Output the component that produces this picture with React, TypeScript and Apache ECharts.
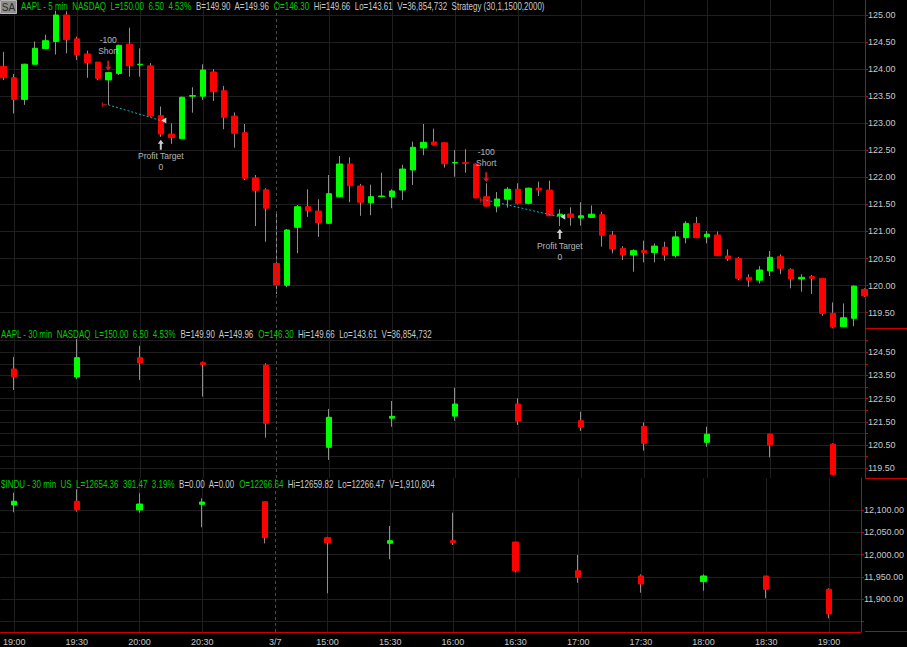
import React, { useEffect, useRef } from "react";
import * as echarts from "echarts";

// ---------- 5-minute AAPL bars (index = bar position) ----------
const open5 = [
  124.05, 123.84, 123.44, 124.09, 124.38, 124.51, 125.0, 124.56, 124.28, 124.13,
  123.8, 123.92, 124.46, 124.08, 124.06, 123.14, 122.8, 122.714, 123.5, 123.5,
  123.947, 123.6, 123.13, 122.825, 121.99, 121.77, 120.41, 120.006, 121.077, 121.458,
  121.378, 121.151, 121.643, 122.247, 121.84, 121.532, 121.645, 121.643, 121.766, 122.136,
  122.543, 122.653, 122.64, 122.265, 122.27, 122.247, 121.643, 121.47, 121.595, 121.78,
  121.52, 121.8, 121.766, 121.29, 121.323, 121.25, 121.26, 121.31, 120.935, 120.69,
  120.565, 120.645, 120.61, 120.71, 120.553, 120.885, 121.15, 120.905, 120.935, 120.547,
  120.504, 120.153, 120.1, 120.27, 120.534, 120.3, 120.122, 120.165, 120.135, 119.488,
  119.24, 119.396, 119.93,
];
const close5 = [
  123.84, 123.44, 124.09, 124.385, 124.525, 125.0, 124.545, 124.26, 124.12, 123.83,
  123.935, 124.44, 124.06, 124.09, 123.135, 122.8, 122.733, 123.48, 123.51, 123.984,
  123.583, 123.11, 122.814, 121.983, 121.761, 121.43, 120.011, 121.027, 121.458, 121.384,
  121.16, 121.698, 122.247, 121.846, 121.54, 121.643, 121.655, 121.748, 122.154, 122.556,
  122.648, 122.6, 122.252, 122.275, 122.26, 121.62, 121.47, 121.6, 121.78, 121.52,
  121.8, 121.766, 121.29, 121.32, 121.26, 121.29, 121.32, 120.93, 120.676, 120.565,
  120.645, 120.61, 120.73, 120.565, 120.9, 121.15, 120.885, 120.95, 120.553, 120.497,
  120.135, 120.1, 120.288, 120.523, 120.32, 120.122, 120.153, 120.135, 119.488, 119.235,
  119.406, 119.99, 119.81,
];
const low5 = [
  123.8, 123.18, 123.34, 124.08, 124.37, 124.27, 124.29, 124.17, 123.84, 123.8,
  123.34, 123.89, 123.86, 123.86, 123.12, 122.75, 122.62, 122.71, 123.195, 123.43,
  123.41, 122.89, 122.548, 121.95, 121.1, 120.81, 119.845, 119.97, 120.6, 121.27,
  120.9, 121.14, 121.63, 121.54, 121.29, 121.3, 121.63, 121.43, 121.58, 121.86,
  122.41, 122.585, 122.18, 122.012, 122.086, 121.613, 121.458, 121.354, 121.44, 121.5,
  121.5, 121.656, 121.286, 121.1, 121.107, 121.107, 121.25, 120.72, 120.597, 120.473,
  120.257, 120.43, 120.43, 120.46, 120.52, 120.78, 120.885, 120.78, 120.547, 120.455,
  120.1, 119.98, 120.04, 120.177, 120.21, 119.95, 119.887, 119.845, 119.444, 119.21,
  119.23, 119.25, 119.79,
];
const high5 = [
  124.32, 123.91, 124.1, 124.51, 124.636, 125.08, 125.07, 124.6, 124.34, 124.13,
  123.95, 124.45, 124.765, 124.385, 124.11, 123.31, 123.0, 123.49, 123.664, 124.09,
  124.0, 123.69, 123.2, 122.986, 122.044, 121.8, 121.378, 121.046, 121.49, 121.78,
  121.595, 122.044, 122.395, 122.37, 121.88, 121.865, 122.086, 121.78, 122.23, 122.66,
  122.986, 122.9, 122.645, 122.506, 122.52, 122.26, 121.89, 121.73, 121.82, 121.89,
  121.81, 121.92, 121.94, 121.41, 121.447, 121.54, 121.48, 121.366, 121.008, 120.73,
  120.67, 120.83, 120.78, 120.81, 121.008, 121.19, 121.27, 121.008, 121.0, 120.67,
  120.53, 120.21, 120.36, 120.64, 120.578, 120.32, 120.21, 120.196, 120.135, 119.69,
  119.67, 120.0, 119.95,
];

// ---------- 30-minute bars, placed at the 5-minute bar they close on ----------
const bar30Index = [1, 7, 13, 19, 25, 31, 37, 43, 49, 55, 61, 67, 73, 79];
const aaplOpen30 = [123.78, 123.435, 124.267, 124.05, 123.95, 120.405, 121.66, 121.75, 122.27, 121.55, 121.3, 120.62, 120.97, 120.54];
const aaplClose30 = [123.44, 124.267, 124.04, 123.97, 121.44, 121.7, 121.74, 122.27, 121.53, 121.27, 120.58, 120.97, 120.5, 119.24];
const aaplLow30 = [122.875, 123.34, 123.31, 122.59, 120.82, 119.86, 121.29, 121.55, 121.37, 121.11, 120.26, 120.43, 119.97, 119.21];
const aaplHigh30 = [124.3, 125.07, 124.78, 124.1, 124.03, 122.06, 122.4, 122.97, 122.52, 121.94, 121.48, 121.29, 121.0, 120.58];

const induOpen30 = [12111.2, 12119.5, 12100, 12112.7, 12118.6, 12038, 12025.5, 12031.3, 12028.4, 11964.1, 11952.3, 11939.6, 11952.3, 11922.5];
const induClose30 = [12119.5, 12100.4, 12113.4, 12117.9, 12038, 12026.8, 12031.3, 12026.8, 11964.1, 11949.4, 11934.4, 11952.3, 11922.5, 11867.2];
const induLow30 = [12094.9, 12096.2, 12094, 12061.3, 12025.4, 11913.6, 11989.7, 12021.7, 11960.6, 11937.3, 11914.9, 11919.4, 11902.4, 11857.6];
const induHigh30 = [12138.7, 12146.3, 12137.3, 12126, 12118.6, 12040, 12064.2, 12094, 12028.4, 11999.3, 11956, 11956, 11952.3, 11924.8];

// ---------- axis ticks ----------
const timeTickIndex = [1, 7, 13, 19, 26, 31, 37, 43, 49, 55, 61, 67, 73, 79];
const timeTickLabels = ["19:00", "19:30", "20:00", "20:30", "3/7", "15:00", "15:30", "16:00", "16:30", "17:00", "17:30", "18:00", "18:30", "19:00"];
const gridLineIndex = [1, 7, 13, 19, 31, 37, 43, 49, 55, 61, 67, 73, 79];
const sessionBreakIndex = 26;

const topPriceTicks = [119.5, 120, 120.5, 121, 121.5, 122, 122.5, 123, 123.5, 124, 124.5, 125];
const topPriceLabels = [119.5, 120, 120.5, 121, 121.5, 122, 122.5, 123, 123.5, 124, 124.5, 125];
const midPriceTicks = [119.5, 120, 120.5, 121, 121.5, 122, 122.5, 123, 123.5, 124, 124.5, 125];
const midPriceLabels = [119.5, 120.5, 121.5, 122.5, 123.5, 124.5];
const induTicks = [11850, 11900, 11950, 12000, 12050, 12100];
const induLabels = [11900, 11950, 12000, 12050, 12100];

// ---------- strategy trades ----------
const entryIndex = [10, 46];
const entryPrice = [123.34, 121.58];
const exitIndex = [15, 53];
const exitPrice = [123.05, 121.27];
const entryText = "-100\nShort";
const exitText = "Profit Target\n0";

// ---------- headers ----------
const headerTop: [string, string][] = [
  ["AAPL - 5 min  NASDAQ  L=150.00  6.50  4.53%", "g"],
  ["B=149.90  A=149.96", "w"],
  ["O=146.30", "g"],
  ["Hi=149.66  Lo=143.61  V=36,854,732  Strategy (30,1,1500,2000)", "w"],
];
const headerMid: [string, string][] = [
  ["AAPL - 30 min  NASDAQ  L=150.00  6.50  4.53%", "g"],
  ["B=149.90  A=149.96", "w"],
  ["O=146.30", "g"],
  ["Hi=149.66  Lo=143.61  V=36,854,732", "w"],
];
const headerBot: [string, string][] = [
  ["$INDU - 30 min  US  L=12654.36  391.47  3.19%", "g"],
  ["B=0.00  A=0.00", "w"],
  ["O=12266.64", "g"],
  ["Hi=12659.82  Lo=12266.47  V=1,910,804", "w"],
];

const FONT = "'Liberation Sans', Arial, sans-serif";
const RED_AXIS = "#c80000";
const TXT = "#c8c8c8";
const GRID_C = "#1f1f1f";
const UP = "#00ff00";
const DOWN = "#ff0000";
const WICK = "#8f8f8f";
const HDR_GREEN = "#00cc00";

const X_MIN = -0.314;
const X_MAX = 82.07;
const panels = [
  { top: 0, height: 328, min: 119.2165, max: 125.277 },
  { top: 328, height: 150, min: 119.082, max: 125.547 },
  { top: 478, height: 154, min: 11826.9, max: 12171.6 },
];
const tickSets = [topPriceTicks, midPriceTicks, induTicks];
const labelSets = [topPriceLabels, midPriceLabels, induLabels];

function richHeader(segs: [string, string][]) {
  return segs.map(([t, c]) => `{${c}|${t}}`).join("  ");
}

function buildOption() {
  const full5 = open5.map((o, i) => [i, o, close5[i], low5[i], high5[i]]);
  const body5 = open5.map((o, i) => [i, o, close5[i], Math.min(o, close5[i]), Math.max(o, close5[i])]);
  const fullA = bar30Index.map((x, k) => [x, aaplOpen30[k], aaplClose30[k], aaplLow30[k], aaplHigh30[k]]);
  const bodyA = bar30Index.map((x, k) => [x, aaplOpen30[k], aaplClose30[k], Math.min(aaplOpen30[k], aaplClose30[k]), Math.max(aaplOpen30[k], aaplClose30[k])]);
  const fullI = bar30Index.map((x, k) => [x, induOpen30[k], induClose30[k], induLow30[k], induHigh30[k]]);
  const bodyI = bar30Index.map((x, k) => [x, induOpen30[k], induClose30[k], Math.min(induOpen30[k], induClose30[k]), Math.max(induOpen30[k], induClose30[k])]);

  const sessionLine = {
    silent: true,
    symbol: "none",
    label: { show: false },
    lineStyle: { color: "#4a4a4a", type: [3, 3], width: 1 },
    data: [{ xAxis: sessionBreakIndex }],
  };

  const wickSeries = (data: number[][], k: number) => ({
    type: "candlestick",
    xAxisIndex: k,
    yAxisIndex: k,
    data,
    barWidth: 1,
    itemStyle: { color: WICK, color0: WICK, borderColor: WICK, borderColor0: WICK, borderWidth: 1 },
    markLine: sessionLine,
    z: 2,
  });
  const bodySeries = (data: number[][], k: number) => ({
    type: "candlestick",
    xAxisIndex: k,
    yAxisIndex: k,
    data,
    barWidth: 6,
    itemStyle: { color: UP, color0: DOWN, borderColor: UP, borderColor0: DOWN, borderWidth: 1 },
    z: 3,
  });

  const tradeLines = entryIndex.map((ei, t) => ({
    type: "line",
    xAxisIndex: 0,
    yAxisIndex: 0,
    data: [
      [ei, entryPrice[t]],
      [exitIndex[t], exitPrice[t]],
    ],
    symbol: "none",
    lineStyle: { color: "#00b8c0", width: 1, type: [2, 2] },
    z: 4,
  }));

  const scatterBase = { type: "scatter", xAxisIndex: 0, yAxisIndex: 0, z: 5, silent: true };
  const annotLabel = {
    show: true,
    position: "inside",
    formatter: "{b}",
    color: "#e0e0e0",
    fontFamily: FONT,
    fontSize: 8.5,
    lineHeight: 11,
    align: "center",
  };

  const series: any[] = [
    wickSeries(full5, 0),
    bodySeries(body5, 0),
    wickSeries(fullA, 1),
    bodySeries(bodyA, 1),
    wickSeries(fullI, 2),
    bodySeries(bodyI, 2),
    ...tradeLines,
    {
      ...scatterBase,
      data: entryIndex.map((i) => [i, high5[i]]),
      symbol: "path://M2,0 H4 V6 H6 L3,10 L0,6 H2 Z",
      symbolSize: [6, 10],
      symbolOffset: [0, -6],
      itemStyle: { color: "#ff2020" },
    },
    {
      ...scatterBase,
      data: exitIndex.map((i) => [i, low5[i]]),
      symbol: "path://M3,0 L6,4 H4 V10 H2 V4 H0 Z",
      symbolSize: [6, 10],
      symbolOffset: [0, 8],
      itemStyle: { color: "#ffffff" },
    },
    {
      ...scatterBase,
      data: entryIndex.map((i, t) => [i, entryPrice[t]]),
      symbol: "path://M0,0 H1 V2 H5 V3 H1 V5 H0 Z",
      symbolSize: [5, 5],
      symbolOffset: [-4, 0],
      itemStyle: { color: "#ff2020" },
    },
    {
      ...scatterBase,
      data: exitIndex.map((i, t) => [i, exitPrice[t]]),
      symbol: "path://M0,3 L5,0 V6 Z",
      symbolSize: [5, 6],
      symbolOffset: [3, 0],
      itemStyle: { color: "#ffffff" },
    },
    {
      ...scatterBase,
      data: entryIndex.map((i) => ({ value: [i, high5[i]], name: entryText })),
      symbolSize: 1,
      itemStyle: { color: "rgba(0,0,0,0)" },
      label: { ...annotLabel, offset: [0, -26] },
    },
    {
      ...scatterBase,
      data: exitIndex.map((i) => ({ value: [i, low5[i]], name: exitText })),
      symbolSize: 1,
      itemStyle: { color: "rgba(0,0,0,0)" },
      label: { ...annotLabel, offset: [0, 25] },
    },
  ];

  const labelStyle = { color: TXT, fontFamily: FONT, fontSize: 9 };

  const xAxis = panels.map((p, k) => ({
    type: "value",
    gridIndex: k,
    min: X_MIN,
    max: X_MAX,
    axisLine: { show: k === 2, onZero: false, lineStyle: { color: RED_AXIS } },
    axisTick: { show: false, customValues: gridLineIndex },
    axisLabel: {
      show: k === 2,
      customValues: timeTickIndex,
      margin: 5,
      ...labelStyle,
      formatter: (v: number) => {
        const j = timeTickIndex.indexOf(Math.round(v));
        return j >= 0 ? timeTickLabels[j] : "";
      },
    },
    splitLine: { show: true, lineStyle: { color: GRID_C, width: 1 } },
  }));

  const formatters = [
    (v: number) => v.toFixed(2),
    (v: number) => v.toFixed(2),
    (v: number) => v.toLocaleString("en-US", { minimumFractionDigits: 2, maximumFractionDigits: 2 }),
  ];

  const yAxis = panels.map((p, k) => ({
    type: "value",
    gridIndex: k,
    position: "right",
    min: p.min,
    max: p.max,
    axisLine: { show: true, onZero: false, lineStyle: { color: RED_AXIS } },
    axisTick: { show: true, length: 3, lineStyle: { color: RED_AXIS }, customValues: tickSets[k] },
    axisLabel: { ...labelStyle, margin: 3, customValues: labelSets[k], formatter: formatters[k] },
    splitLine: { show: true, lineStyle: { color: GRID_C, width: 1 } },
  }));

  const grid = panels.map((p) => ({ left: 0, right: 42, top: p.top, height: p.height }));

  const rich = {
    g: { fill: HDR_GREEN, font: `10px ${FONT}` },
    w: { fill: TXT, font: `10px ${FONT}` },
  };
  const headerText = (segs: [string, string][], x: number, y: number) => ({
    type: "text",
    x,
    y,
    scaleX: 0.8,
    z: 10,
    style: { text: richHeader(segs), rich, font: `10px ${FONT}`, fill: TXT, verticalAlign: "middle", align: "left" },
  });

  const graphic = [
    { type: "rect", z: 10, shape: { x: 0.5, y: 0.5, width: 16, height: 13 }, style: { fill: "#8e8e8e", stroke: "#b8b8b8", lineWidth: 1 } },
    { type: "text", z: 11, x: 8.5, y: 7, style: { text: "SA", fill: "#2a2a2a", font: `10px ${FONT}`, align: "center", verticalAlign: "middle" } },
    headerText(headerTop, 21, 7),
    headerText(headerMid, 1, 335),
    headerText(headerBot, 1, 484.5),
    { type: "line", z: 10, shape: { x1: 865, y1: 631.5, x2: 907, y2: 631.5 }, style: { stroke: RED_AXIS, lineWidth: 1 } },
    { type: "line", z: 10, shape: { x1: 865, y1: 328.5, x2: 907, y2: 328.5 }, style: { stroke: RED_AXIS, lineWidth: 1 } },
    { type: "line", z: 10, shape: { x1: 865, y1: 478.5, x2: 907, y2: 478.5 }, style: { stroke: RED_AXIS, lineWidth: 1 } },
  ];

  return {
    animation: false,
    backgroundColor: "#000000",
    grid,
    xAxis,
    yAxis,
    series,
    graphic,
  };
}

export default function App() {
  const ref = useRef<HTMLDivElement>(null);
  useEffect(() => {
    if (!ref.current) return;
    const chart = echarts.init(ref.current, null, { renderer: "svg" });
    chart.setOption(buildOption() as any);
    return () => chart.dispose();
  }, []);
  return (
    <div
      ref={ref}
      style={{ position: "absolute", left: 0, top: 0, width: 907, height: 647, background: "#000" }}
    />
  );
}
